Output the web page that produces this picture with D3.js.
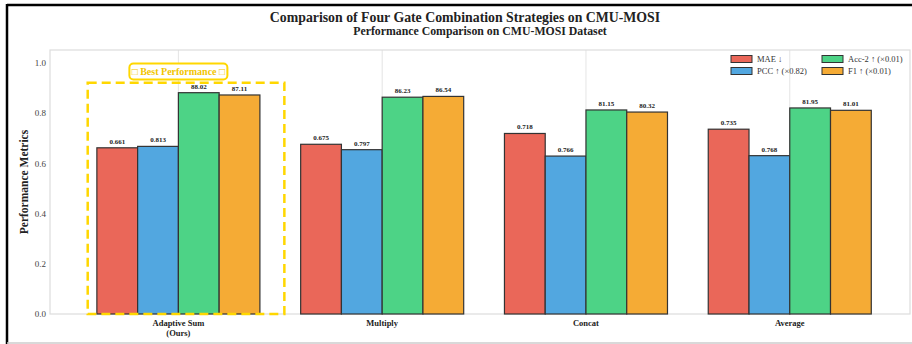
<!DOCTYPE html>
<html>
<head>
<meta charset="utf-8">
<script src="https://cdn.jsdelivr.net/npm/d3@7"></script>
<style>
  body { margin: 0; background: #fff; }
  svg { display: block; font-family: "Liberation Serif", "Times New Roman", serif; }
  .barLabel { font-size: 7px; font-weight: bold; fill: #222; text-anchor: middle; }
  .tickLabel { font-size: 9px; fill: #444; }
</style>
</head>
<body>
<div id="chart"></div>
<script>
// data
const categories = ["Adaptive Sum\n(Ours)", "Multiply", "Concat", "Average"];
const metrics = ["MAE ↓", "PCC ↑ (×0.82)", "Acc-2 ↑ (×0.01)", "F1 ↑ (×0.01)"];
const scaleFactors = [1, 0.82, 0.01, 0.01];
const maeValues = [0.661, 0.675, 0.718, 0.735];
const pccValues = [0.813, 0.797, 0.766, 0.768];
const acc2Values = [88.02, 86.23, 81.15, 81.95];
const f1Values = [87.11, 86.54, 80.32, 81.01];
const yTicks = [0.0, 0.2, 0.4, 0.6, 0.8, 1.0];

const colors = ["#EA6759", "#52A7E0", "#4DD386", "#F5AB35"];
const rawSeries = [maeValues, pccValues, acc2Values, f1Values];
const labelFormats = [d3.format(".3f"), d3.format(".3f"), d3.format(".2f"), d3.format(".2f")];

// constants
const width = 912;
const height = 344;
const margin = { top: 50, right: 2, bottom: 30, left: 50 };
const barWidth = 0.2;

const svg = d3.select("#chart")
  .append("svg")
  .attr("width", width)
  .attr("height", height);

// outer frame
svg.append("line").attr("x1", 7).attr("x2", width).attr("y1", 5).attr("y2", 5)
  .attr("stroke", "#000").attr("stroke-width", 2.5);
svg.append("line").attr("x1", 7).attr("x2", 7).attr("y1", 4).attr("y2", height)
  .attr("stroke", "#000").attr("stroke-width", 2.5);
svg.append("line").attr("x1", 7).attr("x2", width).attr("y1", 343).attr("y2", 343)
  .attr("stroke", "#ccc").attr("stroke-width", 1.5);

const x = d3.scaleLinear()
  .domain([-0.63, 3.59])
  .range([margin.left, width - margin.right]);

const y = d3.scaleLinear()
  .domain([0, 1.05])
  .range([height - margin.bottom, margin.top]);

// titles
svg.append("text")
  .attr("x", 465).attr("y", 22)
  .attr("text-anchor", "middle")
  .style("font-size", "13.8px").style("font-weight", "bold").style("fill", "#222")
  .text("Comparison of Four Gate Combination Strategies on CMU-MOSI");

svg.append("text")
  .attr("x", (margin.left + width - margin.right) / 2).attr("y", 34.5)
  .attr("text-anchor", "middle")
  .style("font-size", "11.8px").style("font-weight", "bold").style("fill", "#222")
  .text("Performance Comparison on CMU-MOSI Dataset");

// grid (vertical at category centers)
svg.append("g")
  .selectAll("line")
  .data(categories)
  .join("line")
  .attr("x1", (d, i) => x(i)).attr("x2", (d, i) => x(i))
  .attr("y1", y.range()[1]).attr("y2", y.range()[0])
  .attr("stroke", "#ddd").attr("stroke-width", 0.8);

// plot frame
svg.append("rect")
  .attr("x", margin.left).attr("y", margin.top)
  .attr("width", width - margin.right - margin.left)
  .attr("height", height - margin.bottom - margin.top)
  .attr("fill", "none").attr("stroke", "#ddd").attr("stroke-width", 1.2);

// y axis
const yAxis = g => g
  .attr("transform", `translate(${margin.left}, 0)`)
  .call(d3.axisLeft(y).tickValues(yTicks).tickFormat(d3.format(".1f")).tickSize(0).tickPadding(4))
  .call(g => g.select(".domain").remove())
  .call(g => g.selectAll(".tick text")
    .attr("class", "tickLabel")
    .style("font-family", "Liberation Serif, serif"));
svg.append("g").call(yAxis);

svg.append("text")
  .attr("transform", `translate(28, ${(margin.top + height - margin.bottom) / 2}) rotate(-90)`)
  .attr("text-anchor", "middle")
  .style("font-size", "11.5px").style("font-weight", "bold").style("fill", "#222")
  .text("Performance Metrics");

// x labels
const xLabels = svg.append("g")
  .selectAll("text")
  .data(categories)
  .join("text")
  .attr("x", (d, i) => x(i))
  .attr("y", height - margin.bottom + 12)
  .attr("text-anchor", "middle")
  .style("font-size", "8.5px").style("font-weight", "bold").style("fill", "#222");
xLabels.each(function(d) {
  const lines = d.split("\n");
  d3.select(this).selectAll("tspan")
    .data(lines)
    .join("tspan")
    .attr("x", d3.select(this).attr("x"))
    .attr("dy", (l, j) => j === 0 ? 0 : 10)
    .text(l => l);
});

// best performance box
const best = svg.append("g");
best.append("rect")
  .attr("x", x(-0.445)).attr("y", y(0.92))
  .attr("width", x(0.52) - x(-0.445))
  .attr("height", y(0) - y(0.92))
  .attr("fill", "none")
  .attr("stroke", "#FFD700").attr("stroke-width", 2.5)
  .attr("stroke-dasharray", "9,5");

// bars
const barData = [];
rawSeries.forEach((series, s) => {
  series.forEach((v, i) => {
    barData.push({ s: s, i: i, raw: v, value: v * scaleFactors[s] });
  });
});

svg.append("g")
  .selectAll("rect")
  .data(barData)
  .join("rect")
  .attr("x", d => x(d.i + (d.s - 2) * barWidth))
  .attr("y", d => y(d.value))
  .attr("width", d => x(barWidth) - x(0))
  .attr("height", d => y(0) - y(d.value))
  .attr("fill", d => colors[d.s])
  .attr("stroke", "#333").attr("stroke-width", 1.2);

svg.append("g")
  .selectAll("text")
  .data(barData)
  .join("text")
  .attr("class", "barLabel")
  .attr("x", d => x(d.i + (d.s - 1.5) * barWidth))
  .attr("y", d => y(d.value) - 4)
  .text(d => labelFormats[d.s](d.raw));

// best performance tag
best.raise();
const tagW = 98, tagH = 16;
best.append("rect")
  .attr("x", x(0) - tagW / 2).attr("y", 63.5)
  .attr("width", tagW).attr("height", tagH)
  .attr("rx", 4)
  .attr("fill", "#fff")
  .attr("stroke", "#FFD700").attr("stroke-width", 2);
best.append("text")
  .attr("x", x(0)).attr("y", 75)
  .attr("text-anchor", "middle")
  .style("font-size", "10px").style("font-weight", "bold").style("fill", "#F2C500")
  .text("□ Best Performance □");

// legend
const legend = svg.append("g");
const legendPos = [[731, 59], [731, 71], [822, 59], [822, 71]];
metrics.forEach((m, s) => {
  const [lx, ly] = legendPos[s];
  legend.append("rect")
    .attr("x", lx).attr("y", ly - 3.5)
    .attr("width", 21).attr("height", 7)
    .attr("fill", colors[s])
    .attr("stroke", "#333").attr("stroke-width", 1);
  legend.append("text")
    .attr("x", lx + 26).attr("y", ly + 3)
    .style("font-size", "8.5px").style("fill", "#333")
    .text(m);
});
</script>
</body>
</html>
